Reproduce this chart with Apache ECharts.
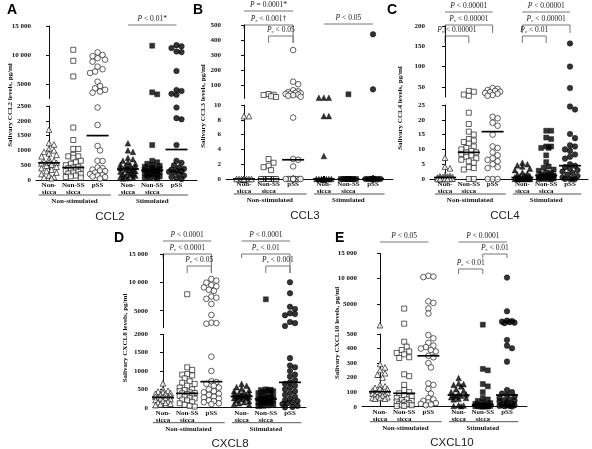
<!DOCTYPE html>
<html><head><meta charset="utf-8">
<script src="https://cdn.jsdelivr.net/npm/echarts@6/dist/echarts.min.js"></script>
<style>html,body{margin:0;padding:0;background:#fff}#c{width:592px;height:449px}</style>
</head><body><div id="c"></div>
<script>
// ---------------- DATA ----------------
const categories = ['Non-\nsicca', 'Non-SS\nsicca', 'pSS', 'Non-\nsicca', 'Non-SS\nsicca', 'pSS'];
const groupLabels = ['Non-stimulated', 'Stimulated'];
const panelLetters = ['A', 'B', 'C', 'D', 'E'];
const panelTitles = ['CCL2', 'CCL3', 'CCL4', 'CXCL8', 'CXCL10'];
const yAxisNames = ['Salivary CCL2 levels, pg/ml', 'Salivary CCL3 levels, pg/ml', 'Salivary CCL4 levels, pg/ml',
  'Salivary CXCL8 levels, pg/ml', 'Salivary CXCL10 levels, pg/ml'];

// CCL2 (A)
const CCL2_values = [
  [1700, 1250, 1200, 1050, 1000, 950, 900, 850, 800, 700, 650, 620, 600, 580, 560, 520, 480, 450, 400, 350, 300, 250, 200, 150, 100, 80, 60],
  [10900, 9000, 6300, 1770, 1350, 1050, 1050, 850, 800, 800, 750, 650, 600, 550, 500, 450, 420, 400, 380, 350, 320, 300, 280, 250, 220, 200, 150, 120, 100, 80],
  [10450, 10000, 9800, 9450, 9200, 8850, 8000, 7550, 7150, 6900, 5400, 4650, 4250, 4000, 3700, 3500, 2450, 1860, 1150, 1000, 650, 640, 420, 400, 350, 320, 300, 250, 200, 170, 150, 120, 100, 50],
  [1240, 1000, 950, 750, 700, 650, 600, 550, 520, 500, 480, 450, 420, 400, 370, 350, 320, 300, 280, 250, 220, 200, 180, 150, 120, 100, 80, 60, 50],
  [11600, 3570, 3220, 1180, 650, 600, 550, 500, 480, 450, 420, 400, 380, 350, 330, 320, 300, 280, 260, 240, 220, 200, 180, 150, 120, 100, 80, 60, 50],
  [11700, 11500, 11200, 10600, 10500, 7250, 3960, 3800, 3300, 3150, 2450, 2090, 2050, 1180, 650, 580, 500, 420, 380, 350, 320, 300, 280, 250, 200, 150, 100, 60, 30]
];
const CCL2_medians = [580, 420, 1500, 370, 330, 1030];
const CCL2_lowerTicks = [0, 2500, 500];
const CCL2_upperTicks = [5000, 10000, 15000];
const CCL2_pTexts = ['P < 0.01*'];

// CCL3 (B)
const zeros = n => Array(n).fill(0);
const CCL3_values = [
  [8.5, 8.5].concat(zeros(24)),
  [40, 35, 33, 25, 20, 2.7, 2.2, 1.8, 1.6, 1.2].concat(zeros(22)),
  [333, 122, 105, 65, 58, 52, 48, 45, 42, 40, 36, 32, 28, 22, 8.3, 2.7, 2.6, 1.7].concat(zeros(15)),
  [15, 15, 15, 8.5, 8.5, 3.1].concat(zeros(20)),
  [38].concat(zeros(28)),
  [438, 71].concat(zeros(27))
];
const CCL3_medians = [0, 0, 2.6, 0, 0, 0];
const CCL3_lowerTicks = [0, 10, 2];
const CCL3_upperTicks = [100, 200, 300, 400, 500];
const CCL3_pTexts = ['P = 0.0001*', 'Pc < 0.001†', 'Pc < 0.05', 'P < 0.05'];

// CCL4 (C)
const CCL4_values = [
  [7.2, 4.2, 3.6, 1.2, 1.0, 0.9, 0.8, 0.7, 0.6, 0.5, 0.5, 0.4, 0.3, 0.2, 0.1, 0, 0, 0, 0, 0, 0],
  [40, 38, 31, 28, 22.4, 18.6, 16, 15, 13.5, 13, 12.5, 12, 11, 10.5, 10, 9.5, 9, 9, 8.5, 8, 7.5, 7, 6.5, 6, 5.5, 4, 3.7, 3.2, 0, 0],
  [47, 45, 42, 40, 38, 37, 35, 33, 30, 28, 21, 20.5, 19, 18, 15, 11, 10.5, 9, 8, 7, 6.5, 6, 5, 4, 3.7, 0, 0, 0],
  [5.5, 5, 4.6, 4.2, 3.5, 3, 2.2, 1.8, 1.5, 1.2, 1, 0.8, 0.6, 0.5, 0.4, 0.3, 0.2, 0.1, 0, 0, 0, 0, 0, 0, 0],
  [16.3, 16.3, 14, 13.5, 11, 11, 10.5, 10.5, 8, 5.7, 4.2, 3.8, 3.2, 2.8, 2.2, 2, 1.6, 1.4, 1.2, 1, 0.8, 0.6, 0.5, 0.4, 0.2, 0, 0, 0, 0],
  [157, 100, 47, 24.5, 23.5, 15.2, 13.8, 11.4, 11, 10, 9.5, 8.3, 7.5, 6.9, 5, 4.5, 4, 3.5, 3, 2.5, 2, 1.5, 1, 0.5, 0, 0, 0, 0]
];
const CCL4_medians = [0.5, 9, 16, 0.5, 1.2, 4.5];
const CCL4_lowerTicks = [0, 25, 5];
const CCL4_upperTicks = [50, 100, 150, 200];
const CCL4_pTexts = ['P < 0.00001', 'Pc < 0.00001', 'Pc < 0.00001', 'P < 0.00001', 'Pc < 0.00001', 'Pc < 0.01'];

// CXCL8 (D)
const CXCL8_values = [
  [663, 500, 460, 440, 420, 400, 380, 360, 340, 320, 300, 290, 280, 270, 260, 250, 230, 210, 190, 170, 150, 130, 110, 90, 70],
  [7900, 1100, 1030, 917, 900, 880, 800, 720, 680, 650, 600, 550, 500, 480, 450, 420, 400, 390, 370, 350, 320, 300, 270, 250, 220, 200, 160, 120, 80, 50, 30],
  [10600, 10300, 9950, 9500, 9300, 9100, 8700, 8500, 7500, 7300, 7100, 6200, 4240, 2880, 2800, 2700, 1390, 1000, 720, 700, 650, 600, 550, 500, 450, 420, 380, 350, 300, 280, 250, 200, 180, 150, 120, 100],
  [650, 600, 560, 520, 480, 450, 420, 400, 380, 360, 340, 330, 310, 300, 290, 280, 260, 250, 230, 200, 180, 150, 120, 100, 80],
  [7010, 500, 490, 480, 470, 450, 430, 400, 380, 350, 320, 300, 280, 260, 250, 240, 230, 220, 200, 180, 160, 150, 130, 120, 100, 80, 60, 50, 40],
  [10020, 8080, 5700, 5300, 4540, 4400, 4200, 3000, 2800, 2300, 1350, 1150, 1100, 1000, 900, 850, 750, 690, 650, 600, 550, 500, 450, 400, 350, 300, 250, 200, 180, 150, 120, 100, 50, 20, 10]
];
const CXCL8_medians = [280, 390, 710, 310, 240, 690];
const CXCL8_lowerTicks = [0, 2000, 500];
const CXCL8_upperTicks = [5000, 10000, 15000];
const CXCL8_pTexts = ['P < 0.0001', 'Pc < 0.0001', 'Pc < 0.05', 'P < 0.0001', 'Pc < 0.01', 'Pc < 0.001'];

// CXCL10 (E)
const CXCL10_values = [
  [800, 294, 270, 252, 230, 220, 200, 150, 140, 130, 125, 120, 110, 105, 100, 95, 90, 85, 80, 80, 75, 70, 65, 60, 60, 55, 55],
  [4080, 1100, 447, 413, 390, 380, 370, 360, 340, 335, 223, 210, 150, 115, 100, 92, 80, 70, 60, 50, 45, 40, 35, 30, 25, 20, 15, 10, 10, 5, 5],
  [10550, 10400, 10300, 5500, 5200, 4100, 3100, 493, 470, 440, 420, 410, 400, 390, 380, 350, 340, 300, 270, 160, 150, 122, 90, 60, 50, 40, 30, 25, 20, 15, 10],
  [197, 160, 155, 150, 140, 120, 110, 100, 90, 85, 80, 75, 70, 65, 60, 55, 50, 10, 8, 5, 3],
  [900, 260, 250, 156, 140, 100, 60, 50, 40, 30, 25, 20, 15, 12, 10, 8, 5, 5, 3, 2, 1, 1, 0],
  [10200, 3550, 1700, 1600, 1500, 1400, 1300, 1200, 459, 420, 402, 310, 115, 100, 90, 80, 70, 60, 50, 45, 40, 35, 30, 20, 15, 10, 10, 5, 5, 3, 2]
];
const CXCL10_medians = [103, 92, 350, 80, 12, 80];
const CXCL10_lowerTicks = [0, 500, 100];
const CXCL10_upperTicks = [5000, 10000, 15000];
const CXCL10_pTexts = ['P < 0.05', 'P < 0.0001', 'Pc < 0.01', 'Pc < 0.01'];

// ---------------- LAYOUT ----------------
const POS = [0, 1, 2, 3.25, 4.25, 5.25];
const panels = [
  { values: CCL2_values, medians: CCL2_medians, lower: CCL2_lowerTicks, upper: CCL2_upperTicks, pTexts: CCL2_pTexts,
    L: { axisX: 36, xEnd: 197, x0: 49, x5: 176.5, uTop: 26, uBot: 98.5, lTop: 106, lBot: 180, letter: [7, 3], yNameX: 10, yNameY: 105, titleX: 110 },
    ann: [{ k: 'line', a: 3, b: 5, y: 25 }] },
  { values: CCL3_values, medians: CCL3_medians, lower: CCL3_lowerTicks, upper: CCL3_upperTicks, pTexts: CCL3_pTexts,
    L: { axisX: 226, xEnd: 393, x0: 244, x5: 373, uTop: 25, uBot: 98.5, lTop: 105, lBot: 179, letter: [193, 3], yNameX: 203, yNameY: 106, titleX: 305 },
    ann: [{ k: 'line', a: 0, b: 2, y: 11 }, { k: 'br', a: 0, b: 2, y: 25, la: 29, lb: 43 }, { k: 'br', a: 1, b: 2, y: 36, la: 43, lb: 43 }, { k: 'line', a: 3, b: 5, y: 24 }] },
  { values: CCL4_values, medians: CCL4_medians, lower: CCL4_lowerTicks, upper: CCL4_upperTicks, pTexts: CCL4_pTexts,
    L: { axisX: 430, xEnd: 588, x0: 445, x5: 570, uTop: 26, uBot: 97, lTop: 105, lBot: 179, letter: [387, 3], yNameX: 400, yNameY: 108, titleX: 505 },
    ann: [{ k: 'line', a: 0, b: 2, y: 12 }, { k: 'br', a: 0, b: 2, y: 25, la: 33, lb: 33 }, { k: 'br', a: 0, b: 1, y: 36, la: 43, lb: 43 },
          { k: 'line', a: 3, b: 5, y: 12 }, { k: 'br', a: 3, b: 5, y: 25, la: 33, lb: 33 }, { k: 'br', a: 3, b: 4, y: 36, la: 43, lb: 43 }] },
  { values: CXCL8_values, medians: CXCL8_medians, lower: CXCL8_lowerTicks, upper: CXCL8_upperTicks, pTexts: CXCL8_pTexts,
    L: { axisX: 153, xEnd: 306, x0: 163, x5: 290, uTop: 254, uBot: 327.7, lTop: 334.3, lBot: 407.7, letter: [114, 231], yNameX: 125, yNameY: 338, titleX: 230 },
    ann: [{ k: 'line', a: 0, b: 2, y: 241 }, { k: 'br', a: 0, b: 2, y: 254, la: 258, lb: 273 }, { k: 'br', a: 1, b: 2, y: 266, la: 273, lb: 273 },
          { k: 'line', a: 3, b: 5, y: 241 }, { k: 'br', a: 3, b: 5, y: 254, la: 258, lb: 273 }, { k: 'br', a: 4, b: 5, y: 266, la: 273, lb: 273 }] },
  { values: CXCL10_values, medians: CXCL10_medians, lower: CXCL10_lowerTicks, upper: CXCL10_upperTicks, pTexts: CXCL10_pTexts,
    L: { axisX: 362, xEnd: 527, x0: 380, x5: 507, uTop: 253.3, uBot: 326.7, lTop: 334, lBot: 406.7, letter: [335, 231], yNameX: 337, yNameY: 333, titleX: 452 },
    ann: [{ k: 'line', a: 0, b: 2, y: 242 }, { k: 'line', a: 3, b: 5, y: 242 }, { k: 'br', a: 4, b: 5, y: 254, la: 258, lb: 258 }, { k: 'br', a: 3, b: 4, y: 269, la: 274, lb: 274 }] }
];

const SERIF = '"Liberation Serif", "Times New Roman", serif';
const SANS = '"Liberation Sans", Arial, sans-serif';
const SYMBOLS = ['triangle', 'rect', 'circle'];
const SIZES = [5.6, 5, 5.6];

function fmtNum(v) { return v >= 10000 ? String(v).replace(/\B(?=(\d{3})+(?!\d))/g, ' ') : String(v); }
function nearestIdx(v) { let bi = 0, bd = 1e9; POS.forEach((p, i) => { const d = Math.abs(p - v); if (d < bd) { bd = d; bi = i; } }); return bi; }

function swarm(vals, yfn, D, step, maxOff) {
  const idx = vals.map((v, i) => i).sort((a, b) => vals[b] - vals[a]);
  const cands = [0];
  for (let k = 1; k * step <= maxOff + 0.01; k++) cands.push(k * step, -k * step);
  const placed = [], offs = new Array(vals.length);
  idx.forEach(i => {
    const y = yfn(vals[i]);
    let best = 0, bestScore = -1;
    for (const c of cands) {
      let minD = Infinity;
      for (const p of placed) { const d = Math.hypot(p[0] - c, p[1] - y); if (d < minD) minD = d; }
      if (minD >= D) { best = c; break; }
      if (minD > bestScore) { bestScore = minD; best = c; }
    }
    offs[i] = best; placed.push([best, y]);
  });
  return offs;
}

const grids = [], xAxes = [], yAxes = [], series = [], gfx = [];
const axisLineStyle = { color: '#111', width: 1 };
const labelStyle = { fontFamily: SERIF, fontWeight: 'bold', fontSize: 7, color: '#111' };

panels.forEach((p, pi) => {
  const L = p.L;
  const ppu = (L.x5 - L.x0) / POS[5];
  const xmin = -(L.x0 - L.axisX) / ppu, xmax = POS[5] + (L.xEnd - L.x5) / ppu;
  const lowerMax = p.lower[1], upperMax = p.upper[p.upper.length - 1];
  const gU = grids.length;
  grids.push({ left: L.axisX, top: L.uTop, width: L.xEnd - L.axisX, height: L.uBot - L.uTop });
  const gL = grids.length;
  grids.push({ left: L.axisX, top: L.lTop, width: L.xEnd - L.axisX, height: L.lBot - L.lTop });
  xAxes.push({ gridIndex: gU, type: 'value', min: xmin, max: xmax, show: false });
  xAxes.push({ gridIndex: gL, type: 'value', min: xmin, max: xmax,
    axisLine: { show: true, lineStyle: axisLineStyle }, axisTick: { show: false }, splitLine: { show: false },
    axisLabel: Object.assign({ customValues: POS, margin: 2, lineHeight: 7, hideOverlap: false,
      formatter: v => categories[nearestIdx(v)] }, labelStyle) });
  yAxes.push({ gridIndex: gU, type: 'value', min: lowerMax, max: upperMax,
    axisLine: { show: true, lineStyle: axisLineStyle }, splitLine: { show: false },
    axisTick: { show: true, length: 3, customValues: p.upper, lineStyle: axisLineStyle },
    axisLabel: Object.assign({ customValues: p.upper, margin: 5, formatter: fmtNum }, labelStyle) });
  yAxes.push({ gridIndex: gL, type: 'value', min: p.lower[0], max: lowerMax, interval: p.lower[2],
    axisLine: { show: true, lineStyle: axisLineStyle }, splitLine: { show: false },
    axisTick: { show: true, length: 3, lineStyle: axisLineStyle },
    axisLabel: Object.assign({ margin: 5, formatter: fmtNum, showMinLabel: true, showMaxLabel: true }, labelStyle) });

  const yfn = v => v <= lowerMax ? L.lBot - v / lowerMax * (L.lBot - L.lTop)
    : L.uBot - (v - lowerMax) / (upperMax - lowerMax) * (L.uBot - L.uTop);

  p.values.forEach((vals, gi) => {
    const offs = swarm(vals, yfn, 5, 2.5, 7.5);
    const lowData = [], upData = [];
    vals.forEach((v, i) => {
      const pt = [POS[gi] + offs[i] / ppu, v];
      (v <= lowerMax ? lowData : upData).push(pt);
    });
    const filled = gi >= 3;
    const common = {
      type: 'scatter', symbol: SYMBOLS[gi % 3], symbolSize: SIZES[gi % 3], silent: true, clip: false, z: 3,
      itemStyle: filled ? { color: '#000', borderColor: '#000', borderWidth: 0.5 } : { color: '#fff', borderColor: '#222', borderWidth: 0.9 },
      emphasis: { disabled: true }
    };
    series.push(Object.assign({}, common, { xAxisIndex: gL, yAxisIndex: gL, data: lowData }));
    if (upData.length) series.push(Object.assign({}, common, { xAxisIndex: gU, yAxisIndex: gU, data: upData }));
  });

  series.push({ type: 'custom', xAxisIndex: gL, yAxisIndex: gL, z: 6, silent: true, clip: false,
    data: p.medians.map((m, i) => [POS[i], m]),
    renderItem: (params, api) => {
      const c = api.coord([api.value(0), api.value(1)]);
      return { type: 'line', shape: { x1: c[0] - 11, y1: c[1], x2: c[0] + 11, y2: c[1] }, style: { stroke: '#000', lineWidth: 1.7 } };
    } });

  // decorations
  const px = pos => L.x0 + pos * ppu;
  gfx.push({ type: 'text', x: L.letter[0], y: L.letter[1], style: { text: panelLetters[pi], fontFamily: SANS, fontWeight: 'bold', fontSize: 14, fill: '#000' } });
  gfx.push({ type: 'text', x: L.yNameX, y: L.yNameY, rotation: Math.PI / 2,
    style: { text: yAxisNames[pi], fontFamily: SERIF, fontWeight: 'bold', fontSize: 7, fill: '#111', align: 'center', verticalAlign: 'middle' } });
  gfx.push({ type: 'text', x: L.titleX, y: L.lBot + 36.5,
    style: { text: panelTitles[pi], fontFamily: SANS, fontSize: 11.5, fill: '#222', align: 'center', verticalAlign: 'middle' } });
  const groupSpans = [[-0.42, 2.55, 1.05], [2.85, Math.min(5.72, xmax - 0.02), 4.25]];
  groupSpans.forEach((s, k) => {
    gfx.push({ type: 'line', shape: { x1: px(s[0]), y1: L.lBot + 15, x2: px(s[1]), y2: L.lBot + 15 }, style: { stroke: '#555', lineWidth: 1 } });
    gfx.push({ type: 'text', x: px(s[2]), y: L.lBot + 21.5,
      style: { text: groupLabels[k], fontFamily: SERIF, fontWeight: 'bold', fontSize: 7, fill: '#111', align: 'center', verticalAlign: 'middle' } });
  });
  p.ann.forEach((a, ai) => {
    const xa = px(POS[a.a]), xb = px(POS[a.b]);
    gfx.push({ type: 'line', shape: { x1: xa, y1: a.y, x2: xb, y2: a.y }, style: { stroke: '#777', lineWidth: 1 } });
    if (a.k === 'br') {
      gfx.push({ type: 'line', shape: { x1: xa, y1: a.y, x2: xa, y2: a.la }, style: { stroke: '#777', lineWidth: 1 } });
      gfx.push({ type: 'line', shape: { x1: xb, y1: a.y, x2: xb, y2: a.lb }, style: { stroke: '#777', lineWidth: 1 } });
    }
    const t = p.pTexts[ai];
    const rt = t.startsWith('Pc') ? '{i|P}{s|c}' + t.slice(2) : '{i|P}' + t.slice(1);
    gfx.push({ type: 'text', x: (xa + xb) / 2, y: a.y - 5.5,
      style: { text: rt, fontFamily: SERIF, fontSize: 7.5, fill: '#222', align: 'center', verticalAlign: 'middle',
        rich: { i: { fontFamily: SERIF, fontSize: 7.5, fontStyle: 'italic', fill: '#222' },
                s: { fontFamily: SERIF, fontSize: 5, fill: '#222', verticalAlign: 'bottom', padding: [3, 0, 0, 0] } } } });
  });
});

const chart = echarts.init(document.getElementById('c'), null, { renderer: 'canvas' });
chart.setOption({
  animation: false,
  backgroundColor: '#fff',
  grid: grids.map(g => Object.assign({ outerBoundsMode: 'none', containLabel: false }, g)),
  xAxis: xAxes,
  yAxis: yAxes,
  series: series,
  graphic: { elements: gfx }
});
</script>
</body></html>
